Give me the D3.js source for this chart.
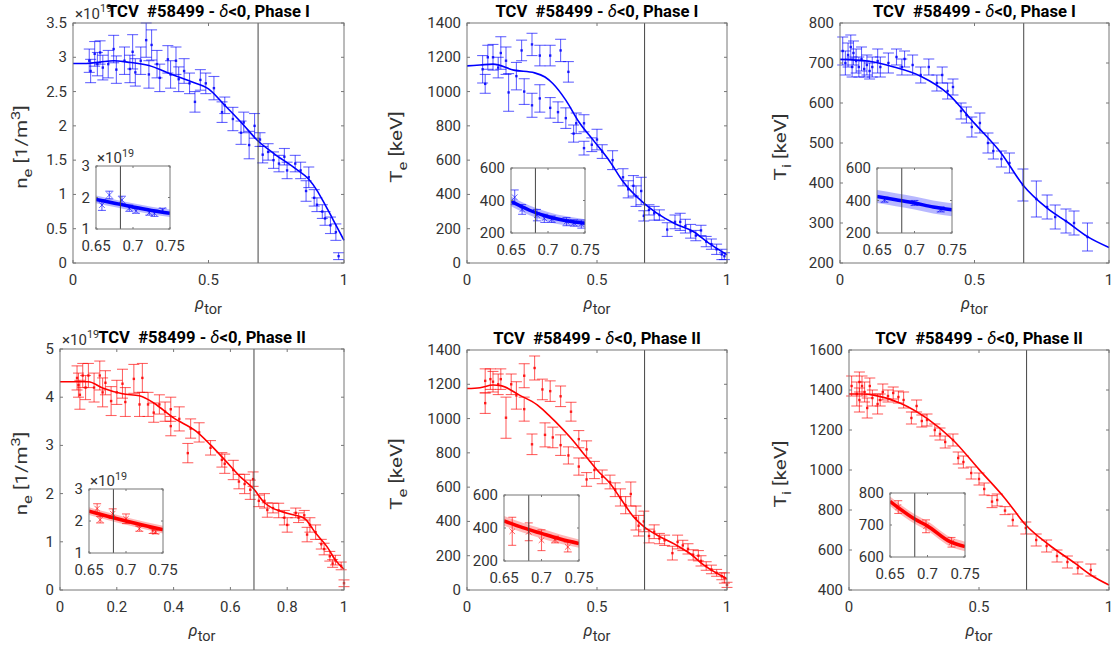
<!DOCTYPE html>
<html><head><meta charset="utf-8">
<script src="https://d3js.org/d3.v7.min.js"></script>
<style>
html,body{margin:0;padding:0;background:#fff;}
svg text{font-family:Roboto,"Noto Sans","DejaVu Sans",sans-serif;white-space:pre;}
</style></head><body>
<svg id="chart" width="1114" height="651"></svg>
<script>
// ---------------- data ----------------
const rhoSep = 0.683;
const xTicksHalf = [0, 0.5, 1];
const xTicksFifth = [0, 0.2, 0.4, 0.6, 0.8, 1];
const insetXTicks = [0.65, 0.7, 0.75];

const neI_yTicks = [0, 0.5, 1, 1.5, 2, 2.5, 3, 3.5];
const TeI_yTicks = [0, 200, 400, 600, 800, 1000, 1200, 1400];
const TiI_yTicks = [200, 300, 400, 500, 600, 700, 800];
const neII_yTicks = [0, 1, 2, 3, 4, 5];
const TeII_yTicks = [0, 200, 400, 600, 800, 1000, 1200, 1400];
const TiII_yTicks = [400, 600, 800, 1000, 1200, 1400, 1600];
const neInset_yTicks = [1, 2, 3];
const TeInset_yTicks = [200, 400, 600];
const TiIInset_yTicks = [200, 400, 600];
const TiIIInset_yTicks = [600, 700, 800];

// [rho, value, error]
const neI_pts = [[0.06,2.95,0.17],[0.065,2.8,0.17],[0.08,3.05,0.18],[0.09,2.9,0.17],[0.10,3.07,0.17],[0.11,2.85,0.18],[0.13,2.9,0.2],[0.15,3.12,0.2],[0.16,2.82,0.2],[0.19,2.95,0.2],[0.21,2.83,0.2],[0.22,3.08,0.25],[0.23,2.78,0.2],[0.25,2.95,0.2],[0.27,3.25,0.25],[0.28,2.75,0.2],[0.29,3.18,0.22],[0.31,2.9,0.2],[0.32,2.7,0.2],[0.35,2.97,0.2],[0.36,2.75,0.2],[0.38,2.95,0.2],[0.39,2.68,0.18],[0.41,2.8,0.18],[0.43,2.62,0.15],[0.45,2.35,0.15],[0.47,2.67,0.15],[0.49,2.62,0.15],[0.52,2.55,0.17],[0.55,2.2,0.15],[0.56,2.3,0.12],[0.59,2.1,0.17],[0.62,1.9,0.17],[0.63,2.05,0.15],[0.65,1.72,0.2],[0.67,2.0,0.18],[0.69,1.8,0.1],[0.7,1.58,0.12],[0.72,1.62,0.12],[0.74,1.5,0.12],[0.76,1.45,0.12],[0.78,1.55,0.12],[0.79,1.35,0.12],[0.82,1.45,0.12],[0.84,1.35,0.12],[0.86,1.05,0.15],[0.87,1.25,0.15],[0.89,0.95,0.12],[0.9,0.85,0.1],[0.92,0.75,0.1],[0.93,0.65,0.1],[0.95,0.55,0.12],[0.97,0.45,0.12],[0.98,0.1,0.05]];
const neI_fit = [[0,2.91],[0.05,2.91],[0.1,2.93],[0.15,2.95],[0.2,2.93],[0.28,2.88],[0.37,2.74],[0.44,2.64],[0.5,2.54],[0.56,2.3],[0.63,2.01],[0.68,1.79],[0.74,1.6],[0.82,1.38],[0.87,1.22],[0.9,1.06],[0.93,0.85],[0.96,0.63],[1.0,0.33]];
const neI_inPts = [[0.658,1.76,0.17],[0.668,2.08,0.12],[0.685,1.92,0.12],[0.695,1.66,0.1],[0.704,1.58,0.08],[0.722,1.52,0.08],[0.729,1.5,0.1],[0.74,1.6,0.06]];
const neI_inFit = [[0.65,1.94,0.12],[0.675,1.82,0.12],[0.7,1.7,0.12],[0.725,1.59,0.12],[0.75,1.5,0.12]];

const TeI_pts = [[0.06,1130,80],[0.07,1045,55],[0.08,1200,70],[0.1,1200,75],[0.12,1140,60],[0.13,1225,95],[0.15,1180,80],[0.16,995,110],[0.19,1090,80],[0.21,1240,60],[0.22,1000,75],[0.25,920,70],[0.25,1275,65],[0.28,960,80],[0.28,1210,60],[0.32,905,60],[0.32,1210,60],[0.35,880,60],[0.36,1240,65],[0.38,845,60],[0.39,1115,60],[0.41,755,50],[0.42,815,60],[0.45,670,40],[0.45,815,50],[0.48,690,40],[0.5,720,60],[0.52,650,40],[0.56,600,55],[0.6,500,50],[0.62,430,50],[0.64,450,60],[0.65,390,60],[0.67,420,80],[0.68,275,30],[0.7,310,30],[0.72,290,40],[0.74,280,30],[0.77,195,40],[0.8,240,40],[0.82,240,50],[0.84,215,40],[0.86,185,40],[0.88,160,30],[0.9,190,30],[0.92,125,30],[0.94,110,30],[0.96,80,30],[0.98,50,30],[0.99,40,20]];
const TeI_fit = [[0,1150],[0.05,1155],[0.1,1160],[0.18,1125],[0.26,1109],[0.3,1085],[0.33,1047],[0.38,950],[0.43,824],[0.49,708],[0.55,591],[0.6,475],[0.68,349],[0.73,291],[0.8,229],[0.87,184],[0.93,116],[1.0,48]];
const TeI_inPts = [[0.655,420,45],[0.665,345,30],[0.685,310,35],[0.695,290,25],[0.705,285,20],[0.725,270,25],[0.735,262,20],[0.745,255,25]];
const TeI_inFit = [[0.65,395,30],[0.675,340,30],[0.7,300,30],[0.725,275,28],[0.75,260,25]];

const TiI_pts = [[0.01,730,35],[0.02,700,30],[0.03,720,30],[0.04,740,30],[0.045,690,25],[0.05,725,30],[0.06,705,30],[0.07,690,25],[0.08,710,30],[0.09,685,20],[0.1,695,25],[0.11,680,20],[0.12,690,25],[0.14,705,30],[0.15,690,25],[0.18,700,25],[0.21,715,20],[0.23,690,20],[0.24,710,20],[0.27,695,25],[0.3,670,20],[0.33,690,20],[0.36,650,20],[0.38,670,20],[0.4,630,20],[0.42,640,20],[0.45,580,20],[0.47,570,20],[0.49,540,25],[0.52,550,25],[0.55,500,25],[0.57,480,20],[0.6,460,20],[0.63,450,25],[0.68,395,40],[0.73,360,45],[0.77,340,30],[0.8,315,30],[0.84,305,30],[0.87,300,30],[0.92,265,35]];
const TiI_fit = [[0,709],[0.1,705],[0.2,690],[0.3,667],[0.4,624],[0.5,549],[0.6,474],[0.68,395],[0.77,337],[0.85,300],[0.92,266],[1.0,239]];
const TiI_inPts = [[0.66,405,15],[0.7,385,15],[0.735,345,15]];
const TiI_inFit = [[0.65,425,40],[0.675,405,40],[0.7,385,40],[0.725,360,40],[0.75,343,40]];

const neII_pts = [[0.06,4.4,0.25],[0.065,4.25,0.25],[0.07,4.05,0.3],[0.08,4.45,0.25],[0.09,4.2,0.25],[0.1,4.45,0.25],[0.12,4.2,0.3],[0.14,4.45,0.3],[0.15,4.1,0.3],[0.16,4.3,0.25],[0.18,3.92,0.3],[0.2,4.1,0.25],[0.22,4.28,0.3],[0.23,3.9,0.3],[0.26,4.38,0.3],[0.28,3.85,0.25],[0.29,4.4,0.3],[0.31,3.85,0.25],[0.33,3.68,0.2],[0.35,3.85,0.2],[0.37,3.7,0.2],[0.39,3.75,0.25],[0.39,3.4,0.2],[0.42,3.55,0.25],[0.45,2.84,0.2],[0.46,3.35,0.2],[0.49,3.27,0.2],[0.53,2.95,0.15],[0.57,2.7,0.15],[0.58,2.62,0.2],[0.61,2.49,0.2],[0.63,2.25,0.15],[0.65,2.2,0.2],[0.67,2.08,0.2],[0.68,2.3,0.15],[0.7,1.85,0.12],[0.72,1.85,0.15],[0.73,1.66,0.15],[0.75,1.7,0.1],[0.77,1.65,0.15],[0.79,1.5,0.15],[0.8,1.35,0.15],[0.83,1.6,0.1],[0.84,1.5,0.1],[0.86,1.55,0.1],[0.87,1.15,0.15],[0.88,1.35,0.15],[0.9,1.2,0.15],[0.92,0.95,0.1],[0.93,0.85,0.12],[0.95,0.7,0.1],[0.96,0.55,0.08],[0.97,0.62,0.1],[0.99,0.5,0.08],[1.0,0.14,0.07]];
const neII_fit = [[0,4.32],[0.1,4.32],[0.15,4.19],[0.22,4.07],[0.28,4.03],[0.33,3.88],[0.4,3.57],[0.48,3.29],[0.53,3.01],[0.58,2.7],[0.64,2.32],[0.68,2.11],[0.72,1.81],[0.8,1.59],[0.86,1.49],[0.9,1.18],[0.94,0.9],[0.97,0.62],[1.0,0.43]];
const neII_inPts = [[0.661,2.39,0.15],[0.665,2.04,0.1],[0.682,2.23,0.15],[0.7,2.07,0.15],[0.718,1.76,0.08],[0.736,1.69,0.08],[0.74,1.66,0.06]];
const neII_inFit = [[0.65,2.31,0.12],[0.675,2.15,0.12],[0.7,2.0,0.12],[0.725,1.86,0.12],[0.75,1.73,0.12]];

const TeII_pts = [[0.07,1220,70],[0.07,1090,60],[0.09,1230,60],[0.1,1215,60],[0.12,1200,60],[0.13,1230,60],[0.15,1005,120],[0.17,1200,60],[0.19,1135,80],[0.22,1055,70],[0.22,1250,70],[0.25,850,60],[0.26,1295,70],[0.29,1170,60],[0.3,905,70],[0.32,1160,60],[0.33,890,60],[0.36,845,60],[0.36,1130,60],[0.39,785,50],[0.4,1040,55],[0.43,720,50],[0.43,880,50],[0.46,645,40],[0.46,820,50],[0.49,700,50],[0.52,660,40],[0.55,630,40],[0.57,585,40],[0.59,540,50],[0.61,495,50],[0.63,560,70],[0.65,420,70],[0.66,375,60],[0.68,400,60],[0.7,315,40],[0.72,340,40],[0.74,300,30],[0.76,290,30],[0.79,215,40],[0.81,280,40],[0.83,260,30],[0.85,240,30],[0.87,205,30],[0.89,200,30],[0.9,170,30],[0.92,140,25],[0.94,120,25],[0.96,100,20],[0.98,80,20],[0.99,70,30],[1.0,30,15]];
const TeII_fit = [[0,1175],[0.05,1180],[0.1,1196],[0.13,1192],[0.2,1138],[0.27,1080],[0.3,1041],[0.34,982],[0.4,885],[0.46,774],[0.5,700],[0.55,622],[0.59,535],[0.64,428],[0.68,370],[0.73,321],[0.8,266],[0.86,210],[0.91,146],[1.0,66]];
const TeII_inPts = [[0.661,380,85],[0.683,377,54],[0.7,326,63],[0.718,330,20],[0.735,285,30]];
const TeII_inFit = [[0.65,443,30],[0.675,402,30],[0.7,367,30],[0.725,333,28],[0.75,306,25]];

const TiII_pts = [[0.01,1420,50],[0.03,1380,60],[0.04,1350,60],[0.04,1440,50],[0.05,1420,50],[0.06,1390,50],[0.07,1310,50],[0.08,1420,40],[0.09,1360,40],[0.11,1330,50],[0.12,1350,30],[0.13,1390,40],[0.15,1370,30],[0.17,1385,30],[0.19,1365,30],[0.21,1350,40],[0.24,1260,30],[0.26,1320,30],[0.28,1245,30],[0.3,1250,30],[0.33,1200,30],[0.35,1180,30],[0.37,1140,30],[0.4,1150,30],[0.42,1060,30],[0.44,1040,30],[0.47,985,30],[0.5,955,30],[0.52,905,30],[0.55,842,30],[0.57,850,30],[0.6,797,20],[0.63,750,30],[0.68,710,30],[0.72,650,30],[0.76,620,30],[0.8,570,30],[0.84,540,30],[0.88,510,30],[0.93,500,30]];
const TiII_fit = [[0,1380],[0.05,1380],[0.1,1373],[0.2,1333],[0.3,1258],[0.4,1150],[0.5,1003],[0.6,858],[0.68,725],[0.77,625],[0.87,533],[0.93,475],[1.0,425]];
const TiII_inPts = [[0.661,756,20],[0.698,696,20],[0.732,646,15]];
const TiII_inFit = [[0.65,774,15],[0.684,717,15],[0.7,697,15],[0.73,648,15],[0.75,633,15]];

// ---------------- drawing ----------------
const svg = d3.select('#chart');
const TXT = '#333';
const BOX = '#777';
const FS = 15;

function rich(sel, parts, size, subScale) {
  const ss = subScale || 0.72;
  let shift = 0;
  parts.forEach(p => {
    const ts = sel.append('tspan').text(p.t);
    const target = p.sub ? size * 0.32 : (p.sup ? -size * 0.42 : 0);
    ts.attr('dy', target - shift);
    shift = target;
    if (p.sub || p.sup) ts.attr('font-size', size * ss);
    if (p.it) ts.attr('font-style', 'italic');
    if (p.bold === false) ts.attr('font-weight', 'normal');
  });
}

let clipN = 0;
function axesFrame(g, x, y, o, tickLen) {
  const [L, R] = x.range();
  const [B, T] = y.range();
  g.selectAll(null).data(o.yTicks).join('line')
    .attr('x1', L).attr('x2', L + tickLen).attr('y1', d => y(d)).attr('y2', d => y(d))
    .attr('stroke', BOX).attr('stroke-width', 1);
  g.selectAll(null).data(o.yTicks).join('line')
    .attr('x1', R).attr('x2', R - tickLen).attr('y1', d => y(d)).attr('y2', d => y(d))
    .attr('stroke', BOX).attr('stroke-width', 1);
  g.selectAll(null).data(o.xTicks).join('line')
    .attr('x1', d => x(d)).attr('x2', d => x(d)).attr('y1', B).attr('y2', B - tickLen)
    .attr('stroke', BOX).attr('stroke-width', 1);
  g.selectAll(null).data(o.xTicks).join('line')
    .attr('x1', d => x(d)).attr('x2', d => x(d)).attr('y1', T).attr('y2', T + tickLen)
    .attr('stroke', BOX).attr('stroke-width', 1);
  g.append('rect').attr('x', L).attr('y', T).attr('width', R - L).attr('height', B - T)
    .attr('fill', 'none').attr('stroke', BOX).attr('stroke-width', 1);
  g.selectAll(null).data(o.yTicks).join('text')
    .attr('x', L - 6).attr('y', d => y(d) + 5).attr('text-anchor', 'end')
    .attr('font-size', FS).attr('fill', TXT).text(d => String(d));
  g.selectAll(null).data(o.xTicks).join('text')
    .attr('x', d => x(d)).attr('y', B + 22).attr('text-anchor', 'middle')
    .attr('font-size', FS).attr('fill', TXT).text(d => String(d));
}

function errorBars(g, pts, x, y, color, capHalf, op) {
  const eg = g.append('g').attr('stroke', color).attr('stroke-opacity', op)
    .attr('stroke-width', 1.1).attr('fill', 'none');
  eg.selectAll(null).data(pts).join('line')
    .attr('x1', d => x(d[0])).attr('x2', d => x(d[0]))
    .attr('y1', d => y(d[1] - d[2])).attr('y2', d => y(d[1] + d[2]));
  eg.selectAll(null).data(pts).join('line')
    .attr('x1', d => x(d[0]) - capHalf).attr('x2', d => x(d[0]) + capHalf)
    .attr('y1', d => y(d[1] - d[2])).attr('y2', d => y(d[1] - d[2]));
  eg.selectAll(null).data(pts).join('line')
    .attr('x1', d => x(d[0]) - capHalf).attr('x2', d => x(d[0]) + capHalf)
    .attr('y1', d => y(d[1] + d[2])).attr('y2', d => y(d[1] + d[2]));
}

function exponent(g, x0, y0) {
  const t = g.append('text').attr('x', x0).attr('y', y0).attr('font-size', FS).attr('fill', TXT);
  rich(t, [{t: '\u00d710'}, {t: '19', sup: true}], FS);
}

function drawPanel(p) {
  const g = svg.append('g');
  const x = d3.scaleLinear().domain([0, 1]).range([p.L, p.R]);
  const y = d3.scaleLinear().domain(p.yDom).range([p.B, p.T]);
  if (p.exp) exponent(g, p.L + 2, p.T - 4.5);

  errorBars(g, p.pts, x, y, p.color, 5.5, 0.6);
  g.selectAll(null).data(p.pts).join('rect')
    .attr('x', d => x(d[0]) - 1.2).attr('y', d => y(d[1]) - 1.2)
    .attr('width', 2.4).attr('height', 2.4).attr('fill', p.color).attr('fill-opacity', 0.85);

  const line = d3.line().x(d => x(d[0])).y(d => y(d[1])).curve(d3.curveMonotoneX);
  g.append('path').datum(p.fit).attr('d', line).attr('fill', 'none')
    .attr('stroke', p.color).attr('stroke-width', 1.6);

  g.append('line').attr('x1', x(rhoSep)).attr('x2', x(rhoSep)).attr('y1', p.T).attr('y2', p.B)
    .attr('stroke', '#444').attr('stroke-width', 1);

  axesFrame(g, x, y, {xTicks: p.xTicks, yTicks: p.yTicks}, 3);

  // inset
  const q = p.inset;
  const ix = d3.scaleLinear().domain([0.65, 0.75]).range([q.L, q.R]);
  const iy = d3.scaleLinear().domain(q.yDom).range([q.B, q.T]);
  const ig = svg.append('g');
  ig.append('rect').attr('x', q.L).attr('y', q.T).attr('width', q.R - q.L).attr('height', q.B - q.T).attr('fill', '#fff');
  const cid = 'clip' + (clipN++);
  ig.append('clipPath').attr('id', cid).append('rect')
    .attr('x', q.L).attr('y', q.T).attr('width', q.R - q.L).attr('height', q.B - q.T);
  const inner = ig.append('g').attr('clip-path', `url(#${cid})`);
  const area = d3.area().x(d => ix(d[0])).y0(d => iy(d[1] - d[2])).y1(d => iy(d[1] + d[2])).curve(d3.curveMonotoneX);
  inner.append('path').datum(q.fit).attr('d', area).attr('fill', p.color).attr('fill-opacity', 0.28);
  const iline = d3.line().x(d => ix(d[0])).y(d => iy(d[1])).curve(d3.curveMonotoneX);
  inner.append('path').datum(q.fit).attr('d', iline).attr('fill', 'none')
    .attr('stroke', p.color).attr('stroke-width', 3.5);
  errorBars(ig, q.pts, ix, iy, p.color, 4, 0.6);
  ig.selectAll(null).data(q.pts).join('path')
    .attr('d', d => { const cx = ix(d[0]), cy = iy(d[1]), s = 2.8;
      return `M${cx - s},${cy - s}L${cx + s},${cy + s}M${cx - s},${cy + s}L${cx + s},${cy - s}`; })
    .attr('stroke', p.color).attr('stroke-opacity', 0.6).attr('stroke-width', 1).attr('fill', 'none');
  ig.append('line').attr('x1', ix(rhoSep)).attr('x2', ix(rhoSep)).attr('y1', q.T).attr('y2', q.B)
    .attr('stroke', '#444').attr('stroke-width', 1);
  axesFrame(ig, ix, iy, {xTicks: insetXTicks, yTicks: q.yTicks}, 2);
  if (q.exp) exponent(ig, q.L + 1, q.T - 3);

  // title (drawn over the exponent label)
  const t = svg.append('text').attr('x', (p.L + p.R) / 2).attr('y', p.T - 6.5)
    .attr('text-anchor', 'middle').attr('font-size', 16.6).attr('font-weight', 'bold').attr('fill', '#000');
  rich(t, [{t: 'TCV  #58499 - '}, {t: '\u03b4', it: true, bold: false}, {t: '<0, ' + p.phase}], 16.6);

  const yl = svg.append('text')
    .attr('transform', `translate(${p.ylx},${(p.T + p.B) / 2 + 4}) rotate(-90) scale(1.25,1)`)
    .attr('text-anchor', 'middle').attr('font-size', 16.5).attr('fill', TXT);
  rich(yl, p.ylab, 16.5, 0.8);

  const xl = svg.append('text').attr('x', (p.L + p.R) / 2).attr('y', p.B + 46)
    .attr('text-anchor', 'middle').attr('font-size', 16.5).attr('fill', TXT);
  rich(xl, [{t: '\u03c1', it: true}, {t: 'tor', sub: true}], 16.5, 0.88);
}

const labNe = [{t: 'n'}, {t: 'e', sub: true}, {t: ' [1/m'}, {t: '3', sup: true}, {t: ']'}];
const labTe = [{t: 'T'}, {t: 'e', sub: true}, {t: ' [keV]'}];
const labTi = [{t: 'T'}, {t: 'i', sub: true}, {t: ' [keV]'}];

const panels = [
  {L: 73, R: 344, T: 23, B: 263, yDom: [0, 3.5], yTicks: neI_yTicks, xTicks: xTicksHalf, pts: neI_pts, fit: neI_fit,
   color: '#0000ff', phase: 'Phase I', ylab: labNe, ylx: 27, exp: true,
   inset: {L: 96, R: 170, T: 166, B: 229, yDom: [1, 3], yTicks: neInset_yTicks, pts: neI_inPts, fit: neI_inFit, exp: true}},
  {L: 467, R: 727, T: 23, B: 263, yDom: [0, 1400], yTicks: TeI_yTicks, xTicks: xTicksHalf, pts: TeI_pts, fit: TeI_fit,
   color: '#0000ff', phase: 'Phase I', ylab: labTe, ylx: 402, exp: false,
   inset: {L: 511, R: 585, T: 168, B: 233, yDom: [200, 600], yTicks: TeInset_yTicks, pts: TeI_inPts, fit: TeI_inFit, exp: false}},
  {L: 840, R: 1109, T: 23, B: 263, yDom: [200, 800], yTicks: TiI_yTicks, xTicks: xTicksHalf, pts: TiI_pts, fit: TiI_fit,
   color: '#0000ff', phase: 'Phase I', ylab: labTi, ylx: 786, exp: false,
   inset: {L: 877, R: 952, T: 168, B: 233, yDom: [200, 600], yTicks: TiIInset_yTicks, pts: TiI_inPts, fit: TiI_inFit, exp: false}},
  {L: 60, R: 344, T: 349, B: 590, yDom: [0, 5], yTicks: neII_yTicks, xTicks: xTicksFifth, pts: neII_pts, fit: neII_fit,
   color: '#ff0000', phase: 'Phase II', ylab: labNe, ylx: 27, exp: true,
   inset: {L: 89, R: 163, T: 489, B: 553, yDom: [1, 3], yTicks: neInset_yTicks, pts: neII_inPts, fit: neII_inFit, exp: true}},
  {L: 467, R: 727, T: 350, B: 590, yDom: [0, 1400], yTicks: TeII_yTicks, xTicks: xTicksHalf, pts: TeII_pts, fit: TeII_fit,
   color: '#ff0000', phase: 'Phase II', ylab: labTe, ylx: 402, exp: false,
   inset: {L: 504, R: 579, T: 495, B: 561, yDom: [200, 600], yTicks: TeInset_yTicks, pts: TeII_inPts, fit: TeII_inFit, exp: false}},
  {L: 849, R: 1109, T: 350, B: 590, yDom: [400, 1600], yTicks: TiII_yTicks, xTicks: xTicksHalf, pts: TiII_pts, fit: TiII_fit,
   color: '#ff0000', phase: 'Phase II', ylab: labTi, ylx: 786, exp: false,
   inset: {L: 890, R: 965, T: 493, B: 557, yDom: [600, 800], yTicks: TiIIInset_yTicks, pts: TiII_inPts, fit: TiII_inFit, exp: false}}
];

panels.forEach(drawPanel);
</script>
</body></html>
